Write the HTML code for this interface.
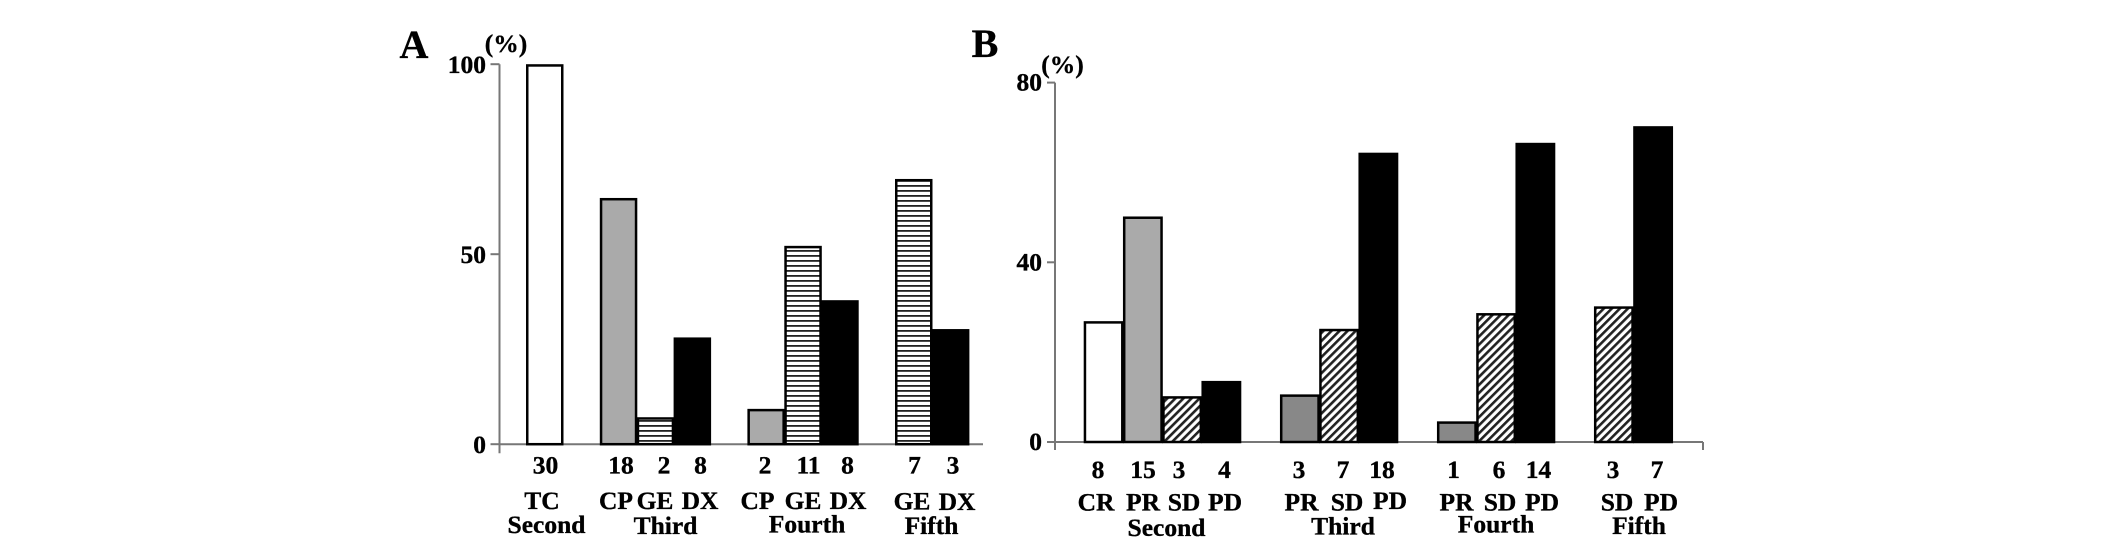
<!DOCTYPE html>
<html lang="en">
<head>
<meta charset="utf-8">
<title>Response by treatment line</title>
<style>
  html,body{margin:0;padding:0;background:#fff;width:2126px;height:544px;overflow:hidden}
  svg{display:block;position:absolute;left:0;top:0}
  text{font-family:"Liberation Serif",serif;font-weight:bold;fill:#000;font-size:25.5px;text-anchor:middle;stroke:#000;stroke-width:.35px}
</style>
</head>
<body>
<svg id="chart" width="2126" height="544" viewBox="0 0 2126 544" xmlns="http://www.w3.org/2000/svg">
  <defs>
    <pattern id="stripes" width="5" height="5" patternUnits="userSpaceOnUse">
      <rect width="5" height="5" fill="#fff"/>
      <rect width="5" height="1.8" fill="#222"/>
    </pattern>
    <pattern id="hatch" width="5.7" height="5.7" patternUnits="userSpaceOnUse" patternTransform="rotate(45)">
      <rect width="5.7" height="5.7" fill="#fff"/>
      <rect width="2.6" height="5.7" fill="#222"/>
    </pattern>
  </defs>

  <g id="panel-a"></g>
  <g id="panel-b"></g>

  <g>
    <text x="414" y="58" style="font-size:40px">A</text>
    <text x="506" y="52">(%)</text>

    <text x="545.5" y="473.5">30</text>
    <text x="621" y="473.5">18</text>
    <text x="664" y="473.5">2</text>
    <text x="700.5" y="473.5">8</text>
    <text x="765" y="473.5">2</text>
    <text x="808.5" y="473.5">11</text>
    <text x="847.5" y="473.5">8</text>
    <text x="914.5" y="473.5">7</text>
    <text x="953" y="473.5">3</text>

    <text x="542" y="509">TC</text>
    <text x="616" y="509">CP</text>
    <text x="655" y="509">GE</text>
    <text x="700" y="509">DX</text>
    <text x="757.5" y="509">CP</text>
    <text x="803" y="509">GE</text>
    <text x="848" y="509">DX</text>
    <text x="912" y="509.5">GE</text>
    <text x="957" y="510">DX</text>

    <text x="546.5" y="533">Second</text>
    <text x="665.5" y="534">Third</text>
    <text x="807" y="532.5">Fourth</text>
    <text x="931.5" y="534">Fifth</text>
  </g>

  <g>
    <text x="985" y="57" style="font-size:40px">B</text>
    <text x="1062.5" y="73">(%)</text>

    <text x="1098" y="478">8</text>
    <text x="1143" y="478">15</text>
    <text x="1179" y="478">3</text>
    <text x="1224.5" y="478">4</text>
    <text x="1299" y="478">3</text>
    <text x="1343" y="478">7</text>
    <text x="1382" y="478">18</text>
    <text x="1453.5" y="478">1</text>
    <text x="1499" y="478">6</text>
    <text x="1538.5" y="478">14</text>
    <text x="1613" y="478">3</text>
    <text x="1657" y="478">7</text>

    <text x="1096" y="510.5">CR</text>
    <text x="1143" y="510.5">PR</text>
    <text x="1184" y="510.5">SD</text>
    <text x="1225" y="510.5">PD</text>
    <text x="1301.5" y="510.5">PR</text>
    <text x="1347" y="510.5">SD</text>
    <text x="1390" y="509">PD</text>
    <text x="1456.5" y="510.5">PR</text>
    <text x="1500" y="510.5">SD</text>
    <text x="1542" y="510.5">PD</text>
    <text x="1617" y="510.5">SD</text>
    <text x="1661" y="510.5">PD</text>

    <text x="1166.5" y="536">Second</text>
    <text x="1343" y="534.5">Third</text>
    <text x="1496" y="532.5">Fourth</text>
    <text x="1639" y="534">Fifth</text>
  </g>
</svg>

<script>
// Panel A data ('' marks an empty slot between groups)
const groupsA = ['Second', '', 'Third', 'Third', 'Third', '', 'Fourth', 'Fourth', 'Fourth', '', 'Fifth', 'Fifth'];
const categoriesA = ['TC', '', 'CP', 'GE', 'DX', '', 'CP', 'GE', 'DX', '', 'GE', 'DX'];
const valuesA = [100, null, 64.8, 7.1, 28.1, null, 9.3, 52.2, 37.9, null, 69.8, 30.3];
const tickLabelsA = [100, 50, 0];

// Panel B data
const groupsB = ['Second', 'Second', 'Second', 'Second', '', 'Third', 'Third', 'Third', '', 'Fourth', 'Fourth', 'Fourth', '', 'Fifth', 'Fifth'];
const categoriesB = ['CR', 'PR', 'SD', 'PD', '', 'PR', 'SD', 'PD', '', 'PR', 'SD', 'PD', '', 'SD', 'PD'];
const valuesB = [26.9, 50.2, 10.2, 13.6, null, 10.6, 25.2, 64.4, null, 4.6, 28.7, 66.6, null, 30.2, 70.3];
const tickLabelsB = [80, 40, 0];

const SVG_NS = 'http://www.w3.org/2000/svg';
const AXIS_COLOR = '#777';

function fillFor(code, group) {
  if (code === 'TC' || code === 'CR') return '#fff';
  if (code === 'CP') return '#aaa';
  if (code === 'PR') return group === 'Second' ? '#aaa' : '#888';
  if (code === 'GE') return 'url(#stripes)';
  if (code === 'SD') return 'url(#hatch)';
  return '#000';
}

function line(parent, x1, y1, x2, y2) {
  const el = document.createElementNS(SVG_NS, 'line');
  el.setAttribute('x1', x1);
  el.setAttribute('y1', y1);
  el.setAttribute('x2', x2);
  el.setAttribute('y2', y2);
  el.setAttribute('stroke', AXIS_COLOR);
  el.setAttribute('stroke-width', 2);
  
  
  parent.appendChild(el);
  return el;
}

function drawPanel(cfg) {
  const root = document.getElementById(cfg.id);
  const yScale = v => cfg.y0 - (v / cfg.yMax) * (cfg.y0 - cfg.yTop);
  const xScale = i => cfg.x0 + i * cfg.step;
  const SW = 2.5;

  // y axis, x axis
  line(root, cfg.axisX, cfg.yTop, cfg.axisX, cfg.y0 + cfg.tickLen);
  line(root, cfg.axisX, cfg.y0, cfg.axisEnd, cfg.y0);
  if (cfg.endTick) line(root, cfg.axisEnd, cfg.y0, cfg.axisEnd, cfg.y0 + cfg.tickLen);

  // y ticks and labels
  cfg.ticks.forEach(function (t) {
    line(root, cfg.axisX - cfg.tickLen, yScale(t), cfg.axisX, yScale(t));
    const label = document.createElementNS(SVG_NS, 'text');
    label.textContent = String(t);
    label.setAttribute('x', cfg.tickLabelX);
    label.setAttribute('y', yScale(t) + cfg.tickBaseline);
    label.style.textAnchor = 'end';
    
    
    root.appendChild(label);
  });

  // bars
  cfg.values.forEach(function (v, i) {
    if (v === null) return;
    const code = cfg.categories[i];
    const group = cfg.groups[i];
    const top = yScale(v);
    const bar = document.createElementNS(SVG_NS, 'rect');
    bar.setAttribute('x', xScale(i) + SW / 2);
    bar.setAttribute('y', top + SW / 2);
    bar.setAttribute('width', cfg.step - SW + 0.6);
    bar.setAttribute('height', cfg.y0 - top - SW / 2);
    bar.setAttribute('fill', fillFor(code, group));
    bar.setAttribute('stroke', '#000');
    bar.setAttribute('stroke-width', SW);
    
    
    root.appendChild(bar);
  });
}

drawPanel({
  id: 'panel-a', groups: groupsA, categories: categoriesA, values: valuesA, ticks: tickLabelsA,
  yMax: 100, y0: 444.2, yTop: 64.2, x0: 526, step: 36.9,
  axisX: 499.5, axisEnd: 983, tickLen: 9, endTick: false, tickLabelX: 486, tickBaseline: 8.6
});

drawPanel({
  id: 'panel-b', groups: groupsB, categories: categoriesB, values: valuesB, ticks: tickLabelsB,
  yMax: 80, y0: 442, yTop: 82.6, x0: 1083.7, step: 39.25,
  axisX: 1055, axisEnd: 1703, tickLen: 8, endTick: true, tickLabelX: 1042, tickBaseline: 8
});
</script>
</body>
</html>
